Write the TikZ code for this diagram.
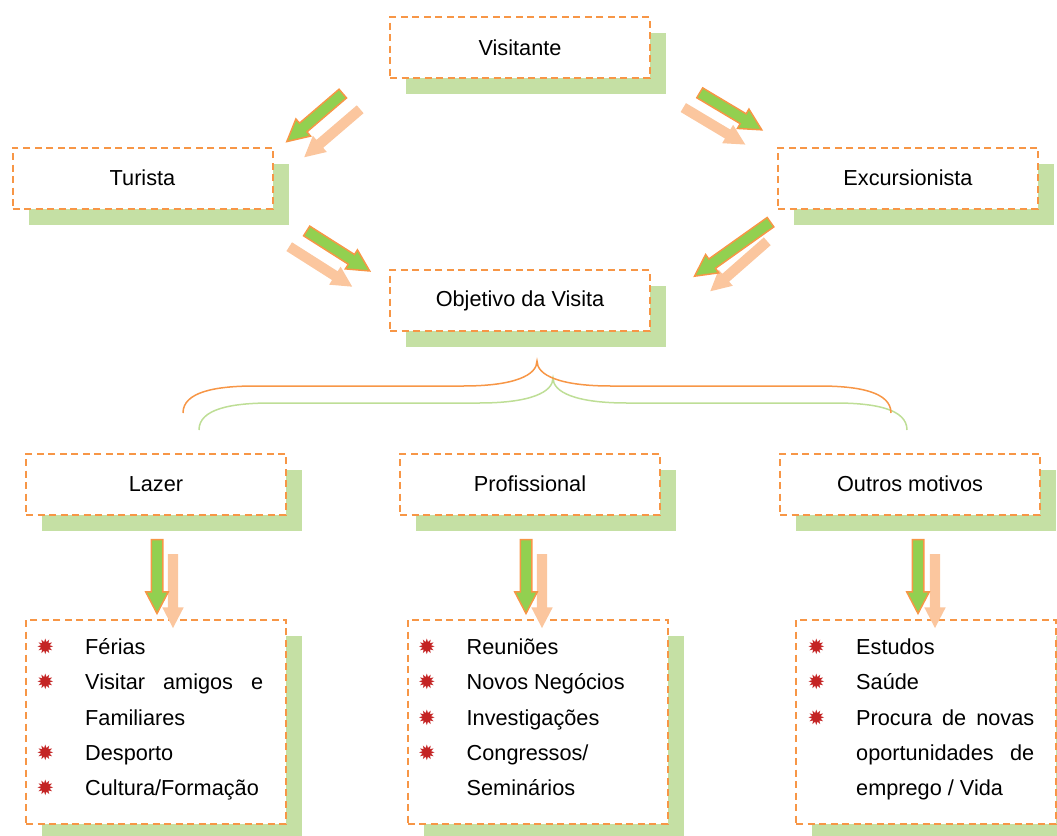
\documentclass[tikz,border=0pt]{standalone}
\usepackage{fontspec}
\setmainfont{Liberation Sans}
\newfontfamily\symfont{DejaVu Sans}
\usetikzlibrary{positioning,shapes.arrows,shadows,calc}

\definecolor{dashorange}{RGB}{247,150,70}
\definecolor{shadegreen}{RGB}{197,224,164}
\definecolor{bracegreen}{RGB}{190,222,150}
\definecolor{arrowgreen}{RGB}{146,208,80}
\definecolor{arrowpeach}{RGB}{251,198,158}
\definecolor{bulletred}{RGB}{196,36,36}

\hyphenpenalty=10000
\exhyphenpenalty=10000

% bullet and list item
\newcommand{\bul}{\llap{\textcolor{bulletred}{\symfont\fontsize{21}{21}\selectfont ✹}\hspace{31pt}}}
\newcommand{\itm}[1]{\noindent\bul #1\par}

% block arrow from #2 to #3, and a green one with its pale copy shifted by #3
\newcommand{\blockarrow}[3]{%
  \path let \p1=($#3-#2$), \n1={veclen(\x1,\y1)} in
    #2 -- node[#1, minimum height=\n1] {} #3;}
\newcommand{\dblarrow}[3]{%
  \blockarrow{peacharrow}{($(#1)+(#3)$)}{($(#2)+(#3)$)}
  \blockarrow{greenarrow}{(#1)}{(#2)}}

\begin{document}
\begin{tikzpicture}[x=1pt,y=-1pt,
    boxstyle/.style={draw=dashorange, line width=2pt, dash pattern=on 7pt off 4.5pt, fill=white,
      general shadow={fill=shadegreen, shadow xshift=16pt, shadow yshift=-16pt},
      minimum width=260pt, inner sep=0pt, font=\fontsize{21.7}{26}\selectfont},
    headbox/.style={boxstyle, minimum height=61pt},
    listbox/.style={boxstyle, minimum height=204pt},
    listtext/.style={text width=178pt, align=justify, inner sep=0pt, anchor=base west,
      font=\fontsize{21.7}{35.3}\selectfont},
    arrowbase/.style={single arrow, sloped, allow upside down, inner xsep=0pt, inner ysep=5pt,
      minimum width=21pt, single arrow head extend=5.5pt, single arrow tip angle=55,
      single arrow head indent=0pt},
    greenarrow/.style={arrowbase, draw=dashorange, line width=1.5pt, fill=arrowgreen},
    peacharrow/.style={arrowbase, fill=arrowpeach}]
  \useasboundingbox (0,0) rectangle (1057,835);

  % top part
  \node[headbox] (vis) at (520,47.5) {Visitante};
  \node[headbox] (tur) at (142.5,178) {Turista};
  \node[headbox] (exc) at (908,178) {Excursionista};
  \node[headbox, below=190pt of vis] (obj) {Objetivo da Visita};

  \coordinate (vt1) at (347,90);  \coordinate (vt2) at (291,138);
  \coordinate (ve1) at (695,90);  \coordinate (ve2) at (757,127);
  \coordinate (to1) at (302,228); \coordinate (to2) at (365,268);
  \coordinate (eo1) at (775,219); \coordinate (eo2) at (699,273);
  \coordinate (ep1) at (771,238); \coordinate (ep2) at (714,288);
  \dblarrow{vt1}{vt2}{17,16}
  \dblarrow{ve1}{ve2}{-16,15}
  \dblarrow{to1}{to2}{-17,16}
  \blockarrow{peacharrow}{(ep1)}{(ep2)}
  \blockarrow{greenarrow}{(eo1)}{(eo2)}

  % braces
  \draw[bracegreen, line width=1.5pt] (199,430) .. controls (199,409) and (231,403) .. (271,403)
    -- (479,403) .. controls (531,403) and (553,392) .. (553,378)
    .. controls (553,392) and (575,403) .. (627,403) -- (835,403)
    .. controls (875,403) and (907,409) .. (907,430);
  \draw[dashorange, line width=1.5pt] (183,413) .. controls (183,392) and (215,386) .. (255,386)
    -- (463,386) .. controls (515,386) and (537,375) .. (537,361)
    .. controls (537,375) and (559,386) .. (611,386) -- (819,386)
    .. controls (859,386) and (891,392) .. (891,413);

  % motives
  \node[headbox] (laz) at (156,484) {Lazer};
  \node[headbox, right=112pt of laz] (pro) {Profissional};
  \node[headbox, right=118pt of pro] (out) {Outros motivos};

  \node[listbox, below=103pt of laz] (lazl) {};
  \node[listbox, below=103pt of pro, xshift=7.5pt] (prol) {};
  \node[listbox, below=103pt of out, xshift=16pt] (outl) {};

  \coordinate (ld1) at (157,534); \coordinate (ld2) at (157,608);
  \coordinate (pd1) at (526,534); \coordinate (pd2) at (526,608);
  \coordinate (od1) at (918,534); \coordinate (od2) at (918,608);
  \dblarrow{ld1}{ld2}{16,15}
  \dblarrow{pd1}{pd2}{16,15}
  \dblarrow{od1}{od2}{17,15}

  \node[listtext] (lazt) at ($(lazl.north west)+(60,36)$)
    {\itm{Férias}\itm{Visitar amigos e Familiares}\itm{Desporto}\itm{Cultura/Formação}};
  \node[listtext] (prot) at ($(prol.north west)+(60,36)$)
    {\itm{Reuniões}\itm{Novos Negócios}\itm{Investigações}\itm{Congressos/ Seminários}};
  \node[listtext] (outt) at ($(outl.north west)+(61,36)$)
    {\itm{Estudos}\itm{Saúde}\itm{Procura de novas oportunidades de emprego / Vida}};
\end{tikzpicture}
\end{document}
